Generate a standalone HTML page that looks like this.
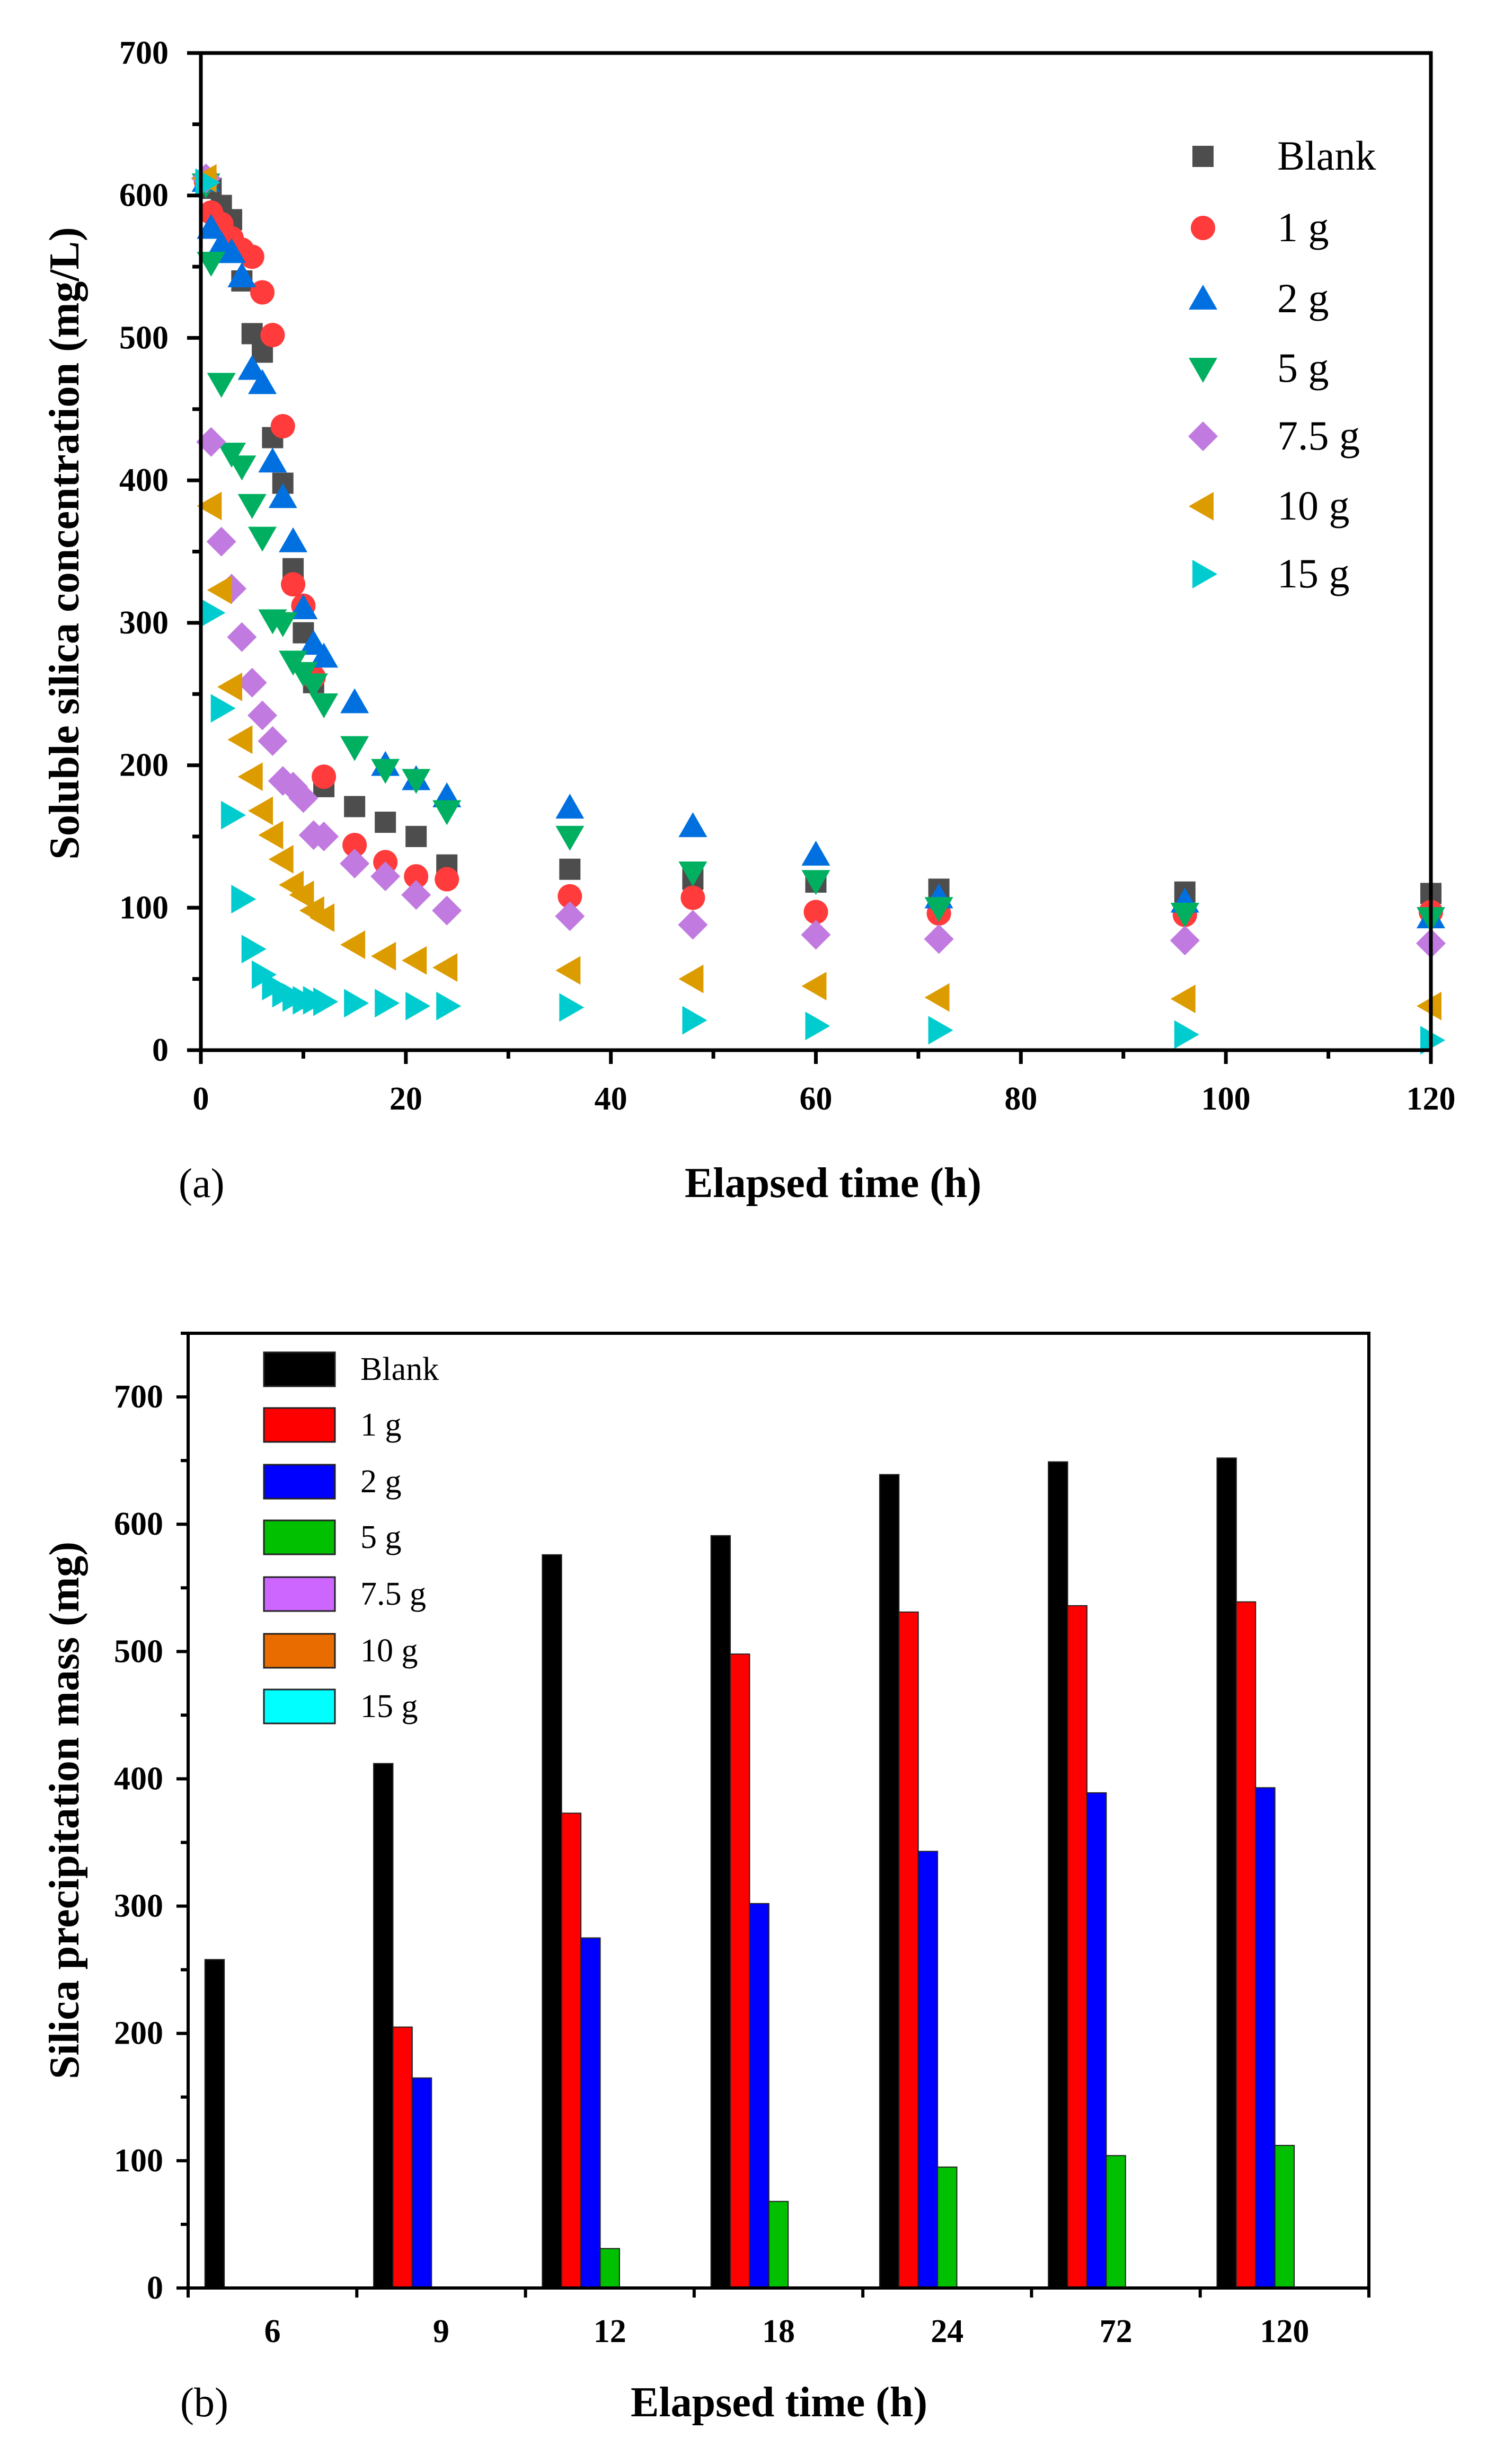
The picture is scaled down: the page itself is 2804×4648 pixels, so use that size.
<!DOCTYPE html>
<html><head><meta charset="utf-8"><style>
html,body{margin:0;padding:0;background:#fff;}
svg{display:block;}
text{font-family:"Liberation Serif",serif;}
</style></head><body>
<svg id="fig" width="2804" height="4648" viewBox="0 0 2804 4648" xmlns="http://www.w3.org/2000/svg">
<g id="chartA"></g>
<g id="chartB"></g>
</svg>
<script>
// ---------- Chart A data ----------
const seriesNamesA = ["Blank","1 g","2 g","5 g","7.5 g","10 g","15 g"];
const timesA = [0.5,1,2,3,4,5,6,7,8,9,10,11,12,15,18,21,24,36,48,60,72,96,120];
const blankA = [610,605,593,583,540,503,490,430,398,338,293,258,185,171,160,150,130,127,120,118,113,111,110];
const g1A    = [610,588,580,570,562,557,532,502,438,327,312,262,192,144,132,122,120,108,107,97,96,95,97];
const g2A    = [610,577,565,560,543,478,468,413,388,357,310,285,276,244,200,190,178,170,157,137,107,104,93];
const g5A    = [608,553,468,419,410,383,360,302,300,273,265,257,243,213,197,190,168,150,125,119,100,96,93];
const g75A   = [612,427,357,324,290,258,235,217,189,185,177,151,150,131,122,109,98,94,88,81,78,77,75];
const g10A   = [612,382,323,255,218,192,168,151,134,116,109,98,93,74,66,63,58,56,50,45,37,36,31];
const g15A   = [609,307,240,165,106,71,53,45,40,37,35,35,34,33,33,31,31,30,21,17,14,11,7];
const xTicksA = [0,20,40,60,80,100,120];
const yTicksA = [0,100,200,300,400,500,600,700];

// ---------- Chart B data ----------
const categoriesB = ["6","9","12","18","24","72","120"];
const seriesNamesB = ["Blank","1 g","2 g","5 g","7.5 g","10 g","15 g"];
const blankB = [258,412,576,591,639,649,652];
const g1B    = [0,205,373,498,531,536,539];
const g2B    = [0,165,275,302,343,389,393];
const g5B    = [0,0,31,68,95,104,112];
const g75B   = [0,0,0,0,0,0,0];
const g10B   = [0,0,0,0,0,0,0];
const g15B   = [0,0,0,0,0,0,0];
const yTicksB = [0,100,200,300,400,500,600,700];

const NS = "http://www.w3.org/2000/svg";
function mk(parent, tag, attrs, txt){
  const e = document.createElementNS(NS, tag);
  for (const k in attrs) e.setAttribute(k, attrs[k]);
  if (txt !== undefined) e.textContent = txt;
  parent.appendChild(e);
  return e;
}

// ================= Chart A =================
(function(){
  const g = document.getElementById('chartA');
  const L=379, R=2700, T=100, B=1981;
  const xS = v => L + (v-0)/(120-0)*(R-L);
  const yS = v => B - v/700*(B-T);
  const colors = ["#4d4d4d","#ff3b3b","#0070e0","#00b060","#c07ae0","#dc9c00","#00ccd0"];
  const allSeries = [blankA,g1A,g2A,g5A,g75A,g10A,g15A];
  const shapes = ["square","circle","up","down","diamond","left","right"];

  function marker(parent, shape, cx, cy, color){
    let e;
    if (shape==="square") e = mk(parent,'rect',{x:cx-20,y:cy-20,width:40,height:40,fill:color});
    else if (shape==="circle") e = mk(parent,'circle',{cx:cx,cy:cy,r:23,fill:color});
    else if (shape==="up") e = mk(parent,'polygon',{points:`${cx},${cy-27} ${cx+27},${cy+20} ${cx-27},${cy+20}`,fill:color});
    else if (shape==="down") e = mk(parent,'polygon',{points:`${cx},${cy+27} ${cx+27},${cy-20} ${cx-27},${cy-20}`,fill:color});
    else if (shape==="diamond") e = mk(parent,'polygon',{points:`${cx},${cy-28} ${cx+28},${cy} ${cx},${cy+28} ${cx-28},${cy}`,fill:color});
    else if (shape==="left") e = mk(parent,'polygon',{points:`${cx-27},${cy} ${cx+20},${cy-27} ${cx+20},${cy+27}`,fill:color});
    else e = mk(parent,'polygon',{points:`${cx+27},${cy} ${cx-20},${cy-27} ${cx-20},${cy+27}`,fill:color});
    return e;
  }

  for (let s=0;s<allSeries.length;s++){
    const sg = mk(g,'g',{});
    
    
    for (let i=0;i<timesA.length;i++){
      const m = marker(sg, shapes[s], xS(timesA[i]), yS(allSeries[s][i]), colors[s]);
      
      
    }
  }
  const fr = mk(g,'rect',{x:L,y:T,width:R-L,height:B-T,fill:'none',stroke:'#000','stroke-width':7});
  
  
  for (let v=0; v<=120; v+=10){
    const major = v%20===0;
    mk(g,'line',{x1:xS(v),x2:xS(v),y1:B,y2:B+(major?26:16),stroke:'#000','stroke-width':7});
  }
  xTicksA.forEach(v=>{
    const t = mk(g,'text',{x:xS(v),y:2093,'text-anchor':'middle','font-size':62,'font-weight':'bold'}, String(v));
    
    
  });
  for (let v=0; v<=700; v+=50){
    const major = v%100===0;
    mk(g,'line',{x1:L,x2:L-(major?26:16),y1:yS(v),y2:yS(v),stroke:'#000','stroke-width':7});
  }
  yTicksA.forEach(v=>{
    const t = mk(g,'text',{x:318,y:yS(v)+20,'text-anchor':'end','font-size':62,'font-weight':'bold'}, String(v));
    
    
  });
  const yt = mk(g,'text',{x:0,y:0,transform:'translate(148,1025) rotate(-90)','text-anchor':'middle','font-size':80,'font-weight':'bold'},'Soluble silica concentration (mg/L)');
  
  
  const xt = mk(g,'text',{x:1572,y:2258,'text-anchor':'middle','font-size':80,'font-weight':'bold'},'Elapsed time (h)');
  
  
  const pl = mk(g,'text',{x:337,y:2258,'font-size':78},'(a)');
  
  
  const lg = mk(g,'g',{});
  
  
  const ly = [295,430,564,695,823,955,1083];
  for (let s=0;s<7;s++){
    const le = mk(lg,'g',{});
    
    
    marker(le, shapes[s], 2270, ly[s], colors[s]);
    mk(le,'text',{x:2410,y:ly[s]+25,'font-size':78},seriesNamesA[s]);
  }
})();

// ================= Chart B =================
(function(){
  const g = document.getElementById('chartB');
  const L=355, R=2583, T=2515, B=4316;
  const yS = v => B - v/750*(B-T);
  const step = (R-L)/categoriesB.length;
  const cx = i => L + step*(i+0.5);
  const bw = 36.4;
  const colors = ["#000000","#ff0000","#0000ff","#00c000","#cc66ff","#e86c00","#00ffff"];
  const allSeries = [blankB,g1B,g2B,g5B,g75B,g10B,g15B];
  for (let s=0;s<allSeries.length;s++){
    const sg = mk(g,'g',{});
    
    
    for (let i=0;i<categoriesB.length;i++){
      const v = allSeries[s][i];
      if (v<=0) continue;
      const x = cx(i) + (s-3)*bw - bw/2;
      const r = mk(sg,'rect',{x:x,y:yS(v),width:bw,height:B-yS(v),fill:colors[s],stroke:'#222','stroke-width':2});
      
      
    }
  }
  const fr = mk(g,'rect',{x:L,y:T,width:R-L,height:B-T,fill:'none',stroke:'#000','stroke-width':6});
  
  
  for (let i=0;i<=categoriesB.length;i++){
    mk(g,'line',{x1:L+step*i,x2:L+step*i,y1:B,y2:B+18,stroke:'#000','stroke-width':6});
  }
  categoriesB.forEach((c,i)=>{
    const t = mk(g,'text',{x:cx(i),y:4418,'text-anchor':'middle','font-size':62,'font-weight':'bold'},c);
    
    
  });
  for (let v=0; v<=750; v+=50){
    const major = v%100===0;
    mk(g,'line',{x1:L,x2:L-(major?22:14),y1:yS(v),y2:yS(v),stroke:'#000','stroke-width':6});
  }
  yTicksB.forEach(v=>{
    const t = mk(g,'text',{x:308,y:yS(v)+20,'text-anchor':'end','font-size':62,'font-weight':'bold'},String(v));
    
    
  });
  const yt = mk(g,'text',{x:0,y:0,transform:'translate(148,3415) rotate(-90)','text-anchor':'middle','font-size':80,'font-weight':'bold'},'Silica precipitation mass (mg)');
  
  
  const xt = mk(g,'text',{x:1470,y:4558,'text-anchor':'middle','font-size':80,'font-weight':'bold'},'Elapsed time (h)');
  
  
  const pl = mk(g,'text',{x:340,y:4558,'font-size':78},'(b)');
  
  
  const lg = mk(g,'g',{});
  
  
  const ly = [2583,2688,2795,2900,3007,3114,3219];
  for (let s=0;s<7;s++){
    const le = mk(lg,'g',{});
    
    
    mk(le,'rect',{x:498,y:ly[s]-32,width:134,height:64,fill:colors[s],stroke:'#222','stroke-width':3});
    mk(le,'text',{x:680,y:ly[s]+20,'font-size':62},seriesNamesB[s]);
  }
})();
</script>
</body></html>
